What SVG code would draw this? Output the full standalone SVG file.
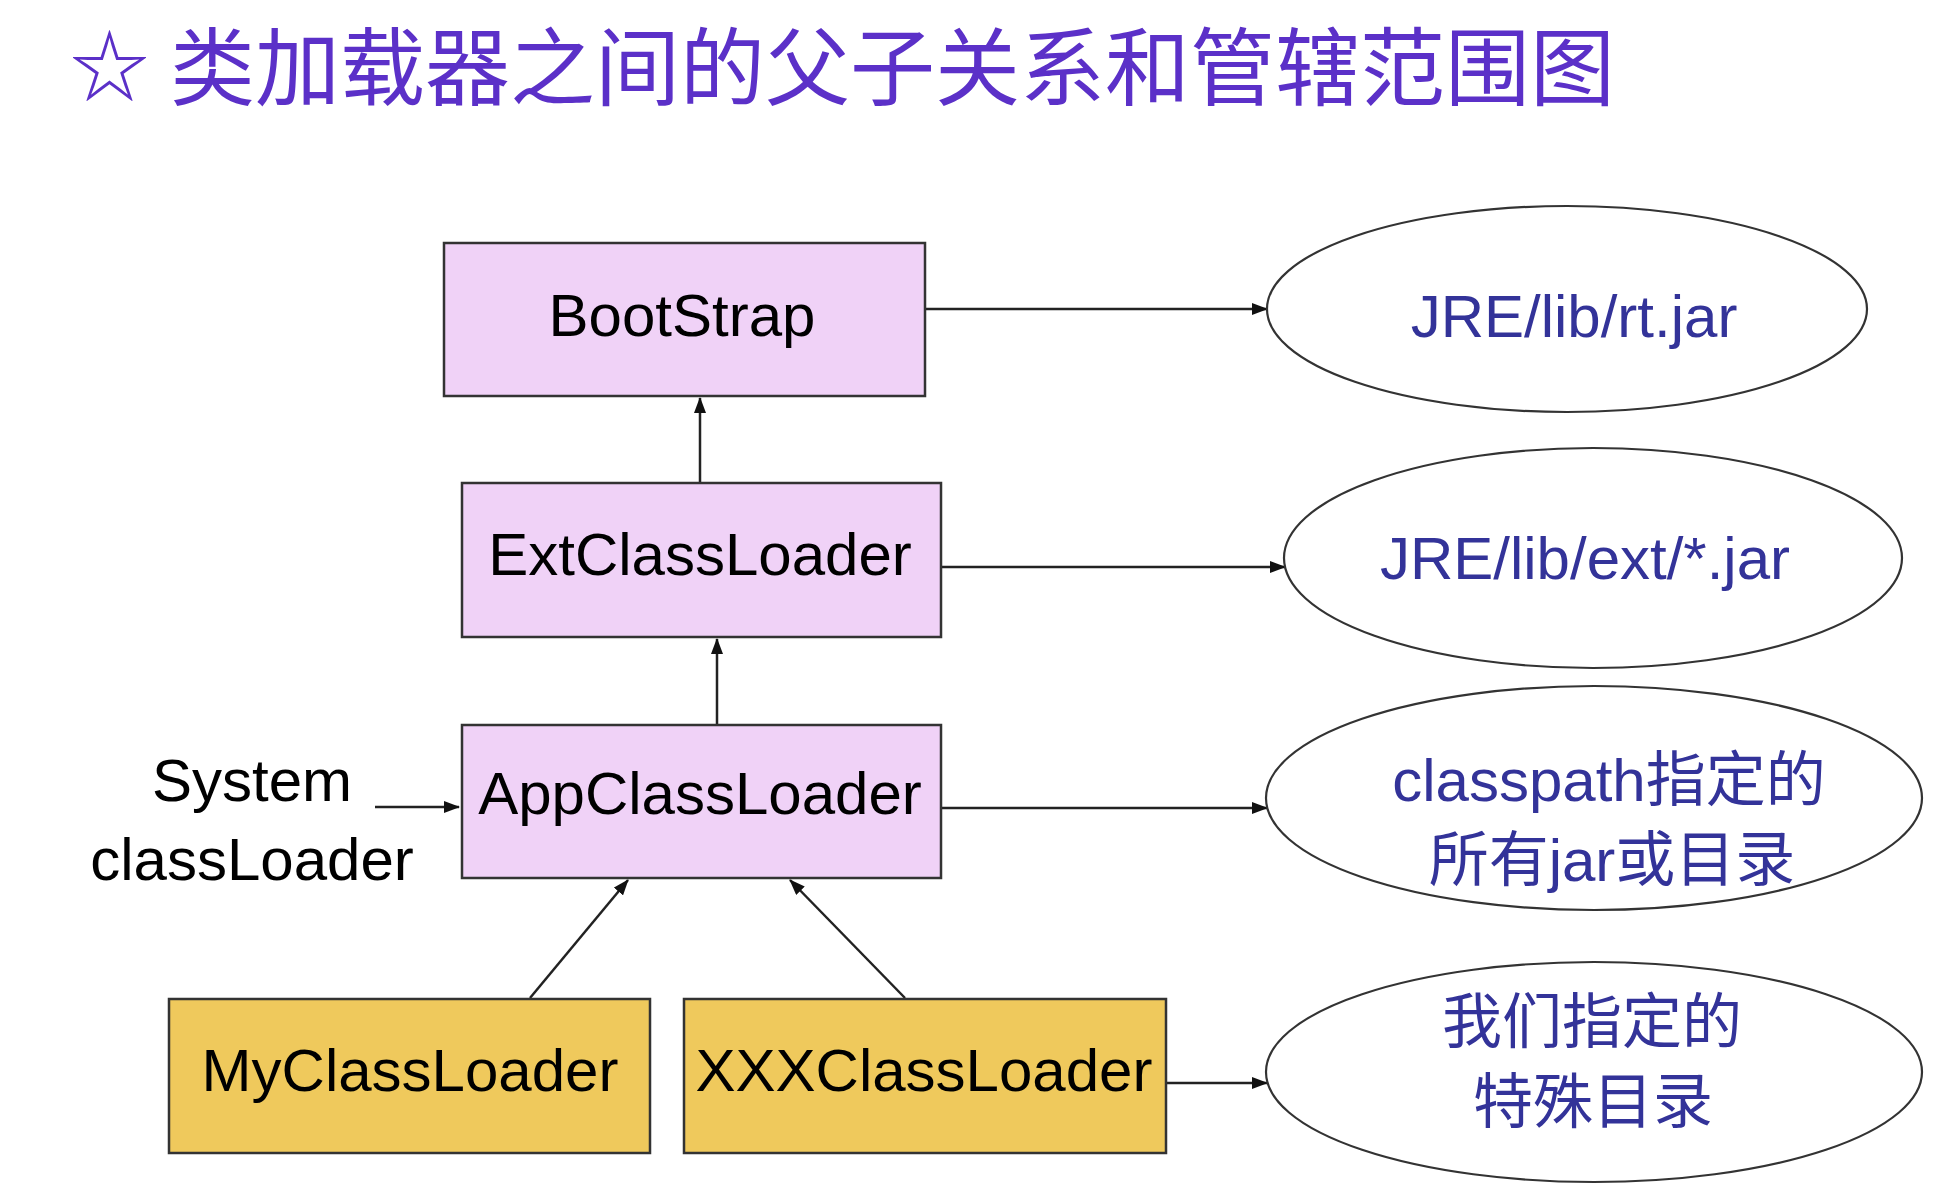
<svg xmlns="http://www.w3.org/2000/svg" width="1936" height="1196" viewBox="0 0 1936 1196">
<style>
.t{font-family:"Liberation Sans","Noto Sans CJK SC",sans-serif;font-size:60px;fill:#000;text-anchor:middle}
.b{fill:#333399}
.title{font-family:"Noto Sans CJK SC",sans-serif;font-size:85px;fill:#5B30C8}
.pink{fill:#F0D2F7;stroke:#333;stroke-width:2.5}
.yel{fill:#EFC95C;stroke:#333;stroke-width:2.5}
.ell{fill:#fff;stroke:#333;stroke-width:2.2}
.c{stroke:#222;stroke-width:2.5;fill:none;marker-end:url(#ah)}
</style>
<defs>
<marker id="ah" markerUnits="userSpaceOnUse" markerWidth="16" markerHeight="12" refX="15" refY="6" orient="auto">
<path d="M0,0 L16,6 L0,12 Z" fill="#111"/>
</marker>
</defs>
<rect width="1936" height="1196" fill="#fff"/>
<g id="title">
<text class="title" x="70" y="96" style="font-size:79px">☆</text>
<text class="title" x="170" y="99">类加载器之间的父子关系和管辖范围图</text>
</g>
<g id="connectors">
<line class="c" x1="925" y1="309" x2="1267" y2="309"/>
<line class="c" x1="941" y1="567" x2="1285" y2="567"/>
<line class="c" x1="941" y1="808" x2="1267" y2="808"/>
<line class="c" x1="1166" y1="1083" x2="1267" y2="1083"/>
<line class="c" x1="700" y1="483" x2="700" y2="398"/>
<line class="c" x1="717" y1="725" x2="717" y2="639"/>
<line class="c" x1="530" y1="998" x2="628" y2="880"/>
<line class="c" x1="905" y1="998" x2="790" y2="880"/>
<line class="c" x1="375" y1="807" x2="459" y2="807"/>
</g>
<g id="bootstrap">
<rect class="pink" x="444" y="243" width="481" height="153"/>
<text class="t" x="682" y="336">BootStrap</text>
</g>
<g id="ext">
<rect class="pink" x="462" y="483" width="479" height="154"/>
<text class="t" x="700" y="575">ExtClassLoader</text>
</g>
<g id="app">
<rect class="pink" x="462" y="725" width="479" height="153"/>
<text class="t" x="700" y="814">AppClassLoader</text>
</g>
<g id="system">
<text class="t" x="252" y="801">System</text>
<text class="t" x="252" y="880">classLoader</text>
</g>
<g id="my">
<rect class="yel" x="169" y="999" width="481" height="154"/>
<text class="t" x="410" y="1091">MyClassLoader</text>
</g>
<g id="xxx">
<rect class="yel" x="684" y="999" width="482" height="154"/>
<text class="t" x="924" y="1091">XXXClassLoader</text>
</g>
<g id="rt">
<ellipse class="ell" cx="1567" cy="309" rx="300" ry="103"/>
<text class="t b" x="1574" y="337">JRE/lib/rt.jar</text>
</g>
<g id="extjar">
<ellipse class="ell" cx="1593" cy="558" rx="309" ry="110"/>
<text class="t b" x="1585" y="579">JRE/lib/ext/*.jar</text>
</g>
<g id="classpath">
<ellipse class="ell" cx="1594" cy="798" rx="328" ry="112"/>
<text class="t b" x="1609" y="801">classpath指定的</text>
<text class="t b" x="1612" y="881">所有jar或目录</text>
</g>
<g id="custom">
<ellipse class="ell" cx="1594" cy="1072" rx="328" ry="110"/>
<text class="t b" x="1592" y="1043">我们指定的</text>
<text class="t b" x="1593" y="1123">特殊目录</text>
</g>
</svg>
